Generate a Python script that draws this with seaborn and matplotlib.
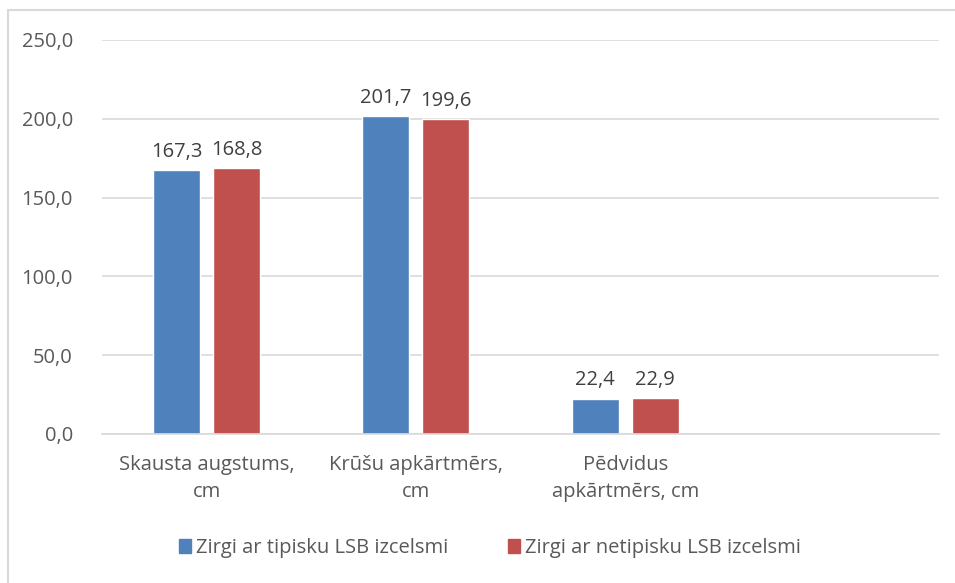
import numpy as np
import pandas as pd
import seaborn as sns
import matplotlib.pyplot as plt
from matplotlib.lines import Line2D

categories = ["Skausta augstums,\ncm", "Krūšu apkārtmērs,\ncm", "Pēdvidus\napkārtmērs, cm", " "]
typical = [167.3, 201.7, 22.4, np.nan]
atypical = [168.8, 199.6, 22.9, np.nan]
series_names = ["Zirgi ar tipisku LSB izcelsmi", "Zirgi ar netipisku LSB izcelsmi"]
yticks = [0, 50, 100, 150, 200, 250]

df = pd.DataFrame({
    "kat": categories * 2,
    "vert": typical + atypical,
    "grupa": [series_names[0]] * 4 + [series_names[1]] * 4,
})

sns.set_style("white")
plt.rcParams['font.family'] = ['Open Sans', 'DejaVu Sans']

fig = plt.figure(figsize=(9.55, 5.83), dpi=100)
ax = fig.add_axes([102 / 955, 1 - 434 / 583, (939 - 102) / 955, (434 - 40) / 583])

sns.barplot(data=df, x="kat", y="vert", hue="grupa", order=categories,
            palette=["#4f81bd", "#c0504d"], width=0.574, gap=0.217,
            ax=ax, legend=False, saturation=1)

for cont in ax.containers:
    labels = ["" if np.isnan(v) else f"{v:.1f}".replace(".", ",") for v in cont.datavalues]
    ax.bar_label(cont, labels=labels, padding=6, fontsize=14.5, color="#404040")

ax.set_xlim(-0.5, 3.5)
ax.set_ylim(0, 250)
ax.set_yticks(yticks)
ax.set_yticklabels([f"{t:.1f}".replace(".", ",") for t in yticks])
ax.yaxis.grid(True, color="#d9d9d9", linewidth=1.2)
ax.set_axisbelow(True)
for s in ["top", "right", "left"]:
    ax.spines[s].set_visible(False)
ax.spines["bottom"].set_color("#d9d9d9")
ax.spines["bottom"].set_linewidth(1.2)
ax.tick_params(axis="both", length=0, labelsize=14.5, labelcolor="#595959")
ax.tick_params(axis="y", pad=21)
ax.tick_params(axis="x", pad=15)
for lbl in ax.get_xticklabels():
    lbl.set_linespacing(1.45)
ax.set_xlabel("")
ax.set_ylabel("")

handles = [plt.Rectangle((0, 0), 1, 1, color=c) for c in ["#4f81bd", "#c0504d"]]
fig.legend(handles, series_names, loc="center", bbox_to_anchor=(0.513, 1 - 548 / 583),
           ncol=2, frameon=False, fontsize=14.5, labelcolor="#595959",
           handlelength=0.6, handleheight=0.7, handletextpad=0.25, columnspacing=3.0)

# chart border (only top and left visible in reference)
fig.add_artist(Line2D([8 / 955, 8 / 955], [0, 1 - 10 / 583], color="#d9d9d9", linewidth=1.5))
fig.add_artist(Line2D([8 / 955, 1], [1 - 10 / 583, 1 - 10 / 583], color="#d9d9d9", linewidth=1.5))

fig.savefig("out.png", dpi=100)
